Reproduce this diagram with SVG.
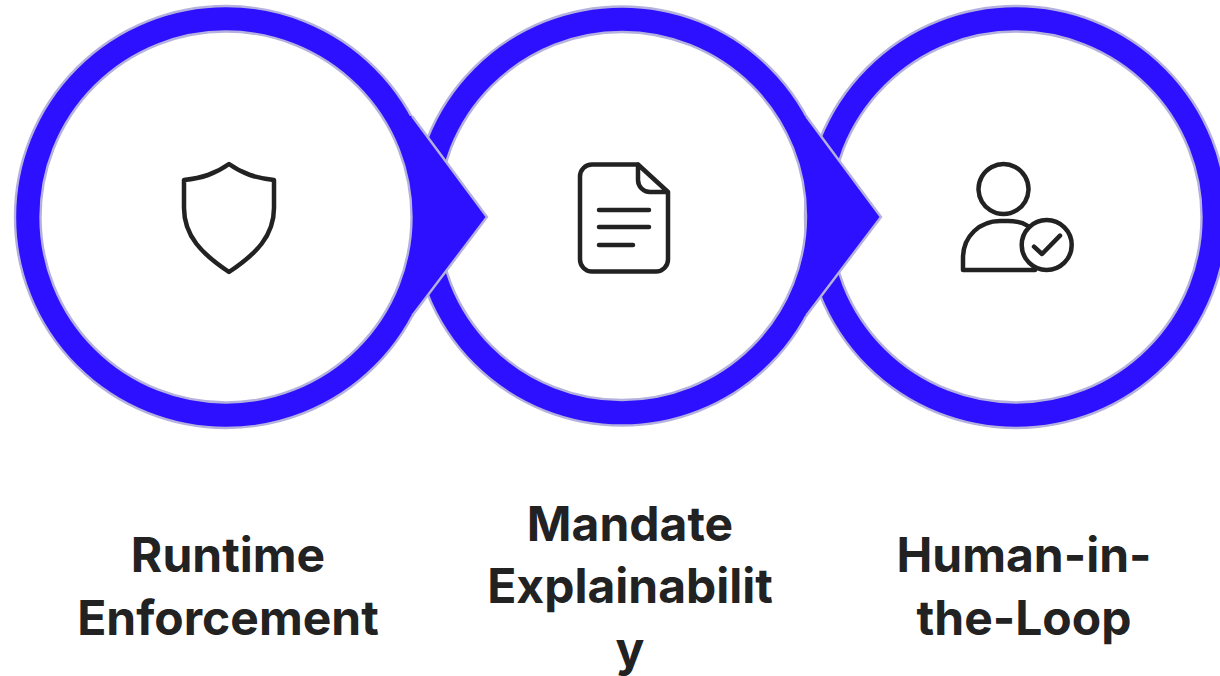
<svg xmlns="http://www.w3.org/2000/svg" width="1220" height="676" viewBox="0 0 1220 676">
<style>
.ring{fill:#2c10ff;fill-rule:evenodd;stroke:#b5b1de;stroke-width:2.400}
.head{fill:#2c10ff}
.edge{fill:none;stroke:#b5b1de;stroke-width:2.400;stroke-linejoin:miter}
.ic{fill:none;stroke:#222;stroke-width:4.500;stroke-linecap:round;stroke-linejoin:round}
.lb{font-family:Inter,"Liberation Sans",sans-serif;font-weight:700;font-size:48px;fill:#222;text-anchor:middle}
</style>
<defs>
<path id="r" class="ring" d="M-211,0A211,211 0 1 1 211,0A211,211 0 1 1 -211,0ZM-185.500,0A185.500,185.500 0 1 0 185.500,0A185.500,185.500 0 1 0 -185.500,0Z"/>
<g id="a"><path class="head" d="M396,116H412L487,217L412,316H397.500A198,198 0 0 0 396,116Z"/><path class="edge" d="M412,116L487,217L412,316"/></g>
</defs>
<rect width="1220" height="676" fill="#fff"/>
<g id="node-3">
<use href="#r" x="1016" y="217"/>
<path class="ic" d="M1003.500,164a25,25 0 1 0 .01,0Z"/>
<path class="ic" d="M1035,270H963V258C963,236 980,221 1000,221H1008C1015,221 1022,222 1028,226"/>
<circle class="ic" cx="1046.700" cy="245" r="25"/>
<path class="ic" d="M1034,246.700L1042,254L1060,235.700"/>
<text class="lb" x="1024" y="572">Human-in-</text>
<text class="lb" x="1024" y="635">the-Loop</text>
</g>
<g id="node-2">
<path class="ring" d="M412.500,216A209.500,209.500 0 1 1 831.500,216A209.500,209.500 0 1 1 412.500,216ZM438,216A184,184 0 1 0 806,216A184,184 0 1 0 438,216Z"/>
<path class="ic" d="M638,164.500H592A12,12 0 0 0 580,176.500V259.500A12,12 0 0 0 592,271.500H656A12,12 0 0 0 668,259.500V192L638,164.500V180A12,12 0 0 0 650,192H668"/>
<path class="ic" d="M599,210H649M599,227H649M599,245H633"/>
<text class="lb" x="630" y="541">Mandate</text>
<text class="lb" x="630" y="603">Explainabilit</text>
<text class="lb" x="630" y="666">y</text>
</g>
<g id="node-1">
<use href="#r" x="226" y="217"/>
<path class="ic" d="M229,164C215,174 202,178 184,180V208C184,236 202,254 229,272C256,254 274,236 274,208V180C256,178 243,174 229,164Z"/>
<text class="lb" x="228" y="572">Runtime</text>
<text class="lb" x="228" y="635">Enforcement</text>
</g>
<g id="connectors">
<use href="#a"/>
<use href="#a" x="394"/>
</g>
</svg>
